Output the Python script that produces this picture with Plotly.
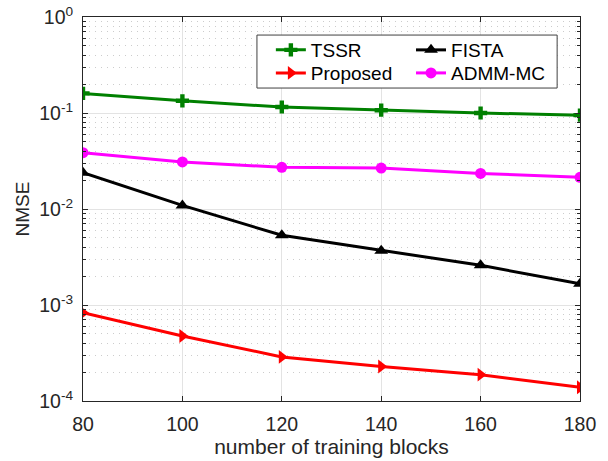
import plotly.graph_objects as go

blocks = [80, 100, 120, 140, 160, 180]
nmse_tssr = [0.160, 0.134, 0.1155, 0.107, 0.100, 0.095]
nmse_fista = [0.0239, 0.0109, 0.00532, 0.00368, 0.00259, 0.00166]
nmse_proposed = [0.00083, 0.000475, 0.000288, 0.000229, 0.000188, 0.000139]
nmse_admm = [0.0386, 0.0309, 0.0272, 0.0267, 0.0235, 0.0214]

y_tick_vals = [1e-4, 1e-3, 1e-2, 1e-1, 1e0]
y_tick_text = ["10<sup>-4</sup>", "10<sup>-3</sup>", "10<sup>-2</sup>", "10<sup>-1</sup>", "10<sup>0</sup>"]
x_tick_vals = [80, 100, 120, 140, 160, 180]

minor_vals = [m * 10.0 ** e for e in range(-4, 0) for m in range(2, 10)]

FONT = "Liberation Sans, Arial, sans-serif"
TXT = "#262626"

fig = go.Figure()

# one single-entry legend per series so that the 2x2 grid can be placed exactly
series = [
    ("TSSR", nmse_tssr, "#008000", "cross", 11, "legend"),
    ("FISTA", nmse_fista, "#000000", "triangle-up", 12, "legend2"),
    ("Proposed", nmse_proposed, "#ff0000", "triangle-right", 12, "legend3"),
    ("ADMM-MC", nmse_admm, "#ff00ff", "circle", 11, "legend4"),
]
for name, vals, color, sym, size, leg in series:
    fig.add_trace(go.Scatter(
        x=blocks, y=vals, name=name, mode="lines+markers",
        line=dict(color=color, width=3),
        marker=dict(symbol=sym, size=size, color=color),
        legend=leg, showlegend=True,
    ))

legend_common = dict(
    font=dict(family=FONT, size=19, color="#000000"),
    bgcolor="rgba(0,0,0,0)", borderwidth=0,
    xanchor="left", yanchor="middle", tracegroupgap=0,
)
col1, col2 = 0.378, 0.660
row1, row2 = 0.914, 0.854

fig.update_layout(
    width=608, height=461,
    margin=dict(l=83, r=28, t=17, b=60),
    paper_bgcolor="white", plot_bgcolor="white",
    font=dict(family=FONT, size=19, color=TXT),
    showlegend=True,
    legend=dict(x=col1, y=row1, **legend_common),
    legend2=dict(x=col2, y=row1, **legend_common),
    legend3=dict(x=col1, y=row2, **legend_common),
    legend4=dict(x=col2, y=row2, **legend_common),
    shapes=[dict(
        type="rect", xref="paper", yref="paper",
        x0=0.350, x1=0.954, y0=0.815, y1=0.953,
        line=dict(color="#404040", width=1), fillcolor="white", layer="above",
    )],
)

fig.update_xaxes(
    range=[80, 180], tickvals=x_tick_vals, automargin=False,
    showline=True, linecolor=TXT, linewidth=1, mirror="allticks",
    ticks="inside", ticklen=5, tickcolor=TXT,
    showgrid=True, gridcolor="#e3e3e3", gridwidth=1,
    zeroline=False, ticklabelstandoff=6,
    tickfont=dict(family=FONT, size=19.5, color=TXT),
    title=dict(text="number of training blocks", font=dict(family=FONT, size=21, color=TXT), standoff=0),
)

fig.update_yaxes(
    type="log", range=[-4, 0], automargin=False,
    tickvals=y_tick_vals, ticktext=y_tick_text,
    showline=True, linecolor=TXT, linewidth=1, mirror="allticks",
    ticks="inside", ticklen=5, tickcolor=TXT,
    showgrid=True, gridcolor="#e3e3e3", gridwidth=1,
    zeroline=False, ticklabelstandoff=5,
    minor=dict(tickvals=minor_vals, ticks="inside", ticklen=3, tickcolor=TXT,
               showgrid=True, gridcolor="#cccccc", griddash="1px,5px", gridwidth=1),
    tickfont=dict(family=FONT, size=19.5, color=TXT),
    title=dict(text="NMSE", font=dict(family=FONT, size=19, color=TXT), standoff=4),
)

fig.write_html("out.html")
